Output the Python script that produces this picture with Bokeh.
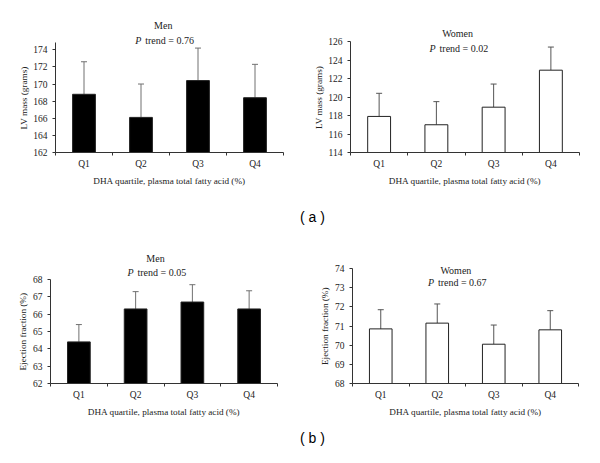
from bokeh.plotting import figure
from bokeh.layouts import column, row
from bokeh.models import (ColumnDataSource, Whisker, TeeHead, FixedTicker, Label,
                          Range1d, Title)
from bokeh.embed import file_html
from bokeh.resources import INLINE

quartiles = ["Q1", "Q2", "Q3", "Q4"]
xlabel = "DHA quartile, plasma total fatty acid (%)"

lv_men = [168.8, 166.1, 170.4, 168.4]
lv_men_se = [3.8, 3.9, 3.8, 3.9]
lv_women = [117.9, 117.0, 118.9, 122.9]
lv_women_se = [2.5, 2.5, 2.5, 2.5]
ef_men = [64.4, 66.3, 66.7, 66.3]
ef_men_se = [1.0, 1.0, 1.0, 1.05]
ef_women = [70.85, 71.15, 70.05, 70.8]
ef_women_se = [1.0, 1.0, 1.0, 1.0]

lv_men_ticks = [162, 164, 166, 168, 170, 172, 174]
lv_women_ticks = [114, 116, 118, 120, 122, 124, 126]
ef_men_ticks = [62, 63, 64, 65, 66, 67, 68]
ef_women_ticks = [68, 69, 70, 71, 72, 73, 74]

p_men_lv = "0.76"
p_women_lv = "0.02"
p_men_ef = "0.05"
p_women_ef = "0.67"

SERIF = "Liberation Serif"
TXT = "#222222"


def panel(values, se, ticks, axis_top, ylabel, ylabel_len, sex, ptrend, fill,
          width, height, left, right, frame_top, axis_top_px, frame_bottom,
          title_x, title_y, ptrend_y, err_color):
    axis_px = frame_bottom - axis_top_px
    full_px = frame_bottom - frame_top
    yend = ticks[0] + (axis_top - ticks[0]) * full_px / axis_px
    p = figure(width=width, height=height, x_range=Range1d(0.5, 4.5),
               y_range=Range1d(ticks[0], yend), output_backend="svg",
               toolbar_location=None, min_border_left=left,
               min_border_right=right, min_border_top=frame_top,
               min_border_bottom=height - frame_bottom)
    p.outline_line_color = None
    p.grid.visible = False
    xs = [i + 1 for i in range(len(quartiles))]
    src = ColumnDataSource(dict(
        x=xs, top=values,
        upper=[v + e for v, e in zip(values, se)]))
    p.vbar(x="x", top="top", bottom=ticks[0], width=0.4, source=src,
           fill_color=fill, line_color="#222222", line_width=1)
    w = Whisker(base="x", lower="top", upper="upper", source=src,
                dimension="height", line_color=err_color, line_width=1,
                lower_head=None,
                upper_head=TeeHead(size=6, line_color=err_color, line_width=1))
    p.add_layout(w)

    xa = p.xaxis[0]
    xa.ticker = FixedTicker(ticks=xs, minor_ticks=[x - 0.5 for x in xs] + [xs[-1] + 0.5])
    xa.major_label_overrides = {x: q for x, q in zip(xs, quartiles)}
    xa.major_tick_out = 3
    xa.major_tick_in = 0
    xa.minor_tick_out = 3
    xa.minor_tick_in = 0
    xa.major_label_standoff = 3
    xa.axis_label = xlabel
    xa.axis_label_standoff = 4

    ya = p.yaxis[0]
    ya.ticker = FixedTicker(ticks=ticks, minor_ticks=[])
    ya.bounds = (ticks[0], axis_top)
    ya.major_tick_out = 3
    ya.major_tick_in = 0
    ya.major_label_standoff = 5

    for ax in (xa, ya):
        ax.axis_line_color = "#333333"
        ax.major_tick_line_color = "#333333" if ax is ya else None
        ax.minor_tick_line_color = "#333333" if ax is xa else None
        ax.major_label_text_font = SERIF
        ax.major_label_text_font_size = "9.5px"
        ax.major_label_text_color = TXT
        ax.axis_label_text_font = SERIF
        ax.axis_label_text_font_size = "9.2px"
        ax.axis_label_text_font_style = "normal"
        ax.axis_label_text_color = TXT

    # y-axis label, centred on the drawn (bounded) axis
    p.add_layout(Title(text=ylabel, align="left",
                       offset=(axis_px - ylabel_len) / 2, standoff=4,
                       vertical_align="bottom", text_font=SERIF,
                       text_font_size="9.2px", text_font_style="normal",
                       text_color=TXT), "left")

    p.add_layout(Label(x=title_x, y=title_y, x_units="data", y_units="screen",
                       text=sex, text_align="center", text_baseline="middle",
                       text_font=SERIF, text_font_size="10px", text_color=TXT))
    p.add_layout(Label(x=title_x, y=ptrend_y, x_units="data", y_units="screen",
                       x_offset=-28, text="P", text_align="left",
                       text_baseline="middle", text_font=SERIF,
                       text_font_style="italic", text_font_size="10px",
                       text_color=TXT))
    p.add_layout(Label(x=title_x, y=ptrend_y, x_units="data", y_units="screen",
                       x_offset=-18, text="trend = " + ptrend, text_align="left",
                       text_baseline="middle", text_font=SERIF,
                       text_font_size="10px", text_color=TXT))
    return p


def strip(text, height, cx, cy):
    s = figure(width=600, height=height, x_range=Range1d(0, 600),
               y_range=Range1d(0, height), output_backend="svg",
               toolbar_location=None, min_border=0, x_axis_type=None,
               y_axis_type=None)
    s.outline_line_color = None
    s.grid.visible = False
    s.add_layout(Label(x=cx, y=cy, x_units="screen", y_units="screen",
                       text=text, text_align="center", text_baseline="middle",
                       text_font="Liberation Sans", text_font_size="14px",
                       text_color="black"))
    return s


# top row: frames share top (15) and bottom (152)
p1 = panel(lv_men, lv_men_se, lv_men_ticks, 174.85, "LV mass (grams)", 64, "Men",
           p_men_lv, "black", 300, 205, 55, 17, 15, 42, 152,
           2.39, 127, 112.5, "#707070")
p2 = panel(lv_women, lv_women_se, lv_women_ticks, 126, "LV mass (grams)", 64, "Women",
           p_women_lv, "white", 300, 205, 50, 21, 15, 41, 152,
           2.37, 119, 104.5, "#555555")
# bottom row: frames share top (12) and bottom (155)
p3 = panel(ef_men, ef_men_se, ef_men_ticks, 68, "Ejection fraction (%)", 78, "Men",
           p_men_ef, "black", 300, 197, 50, 23, 12, 51, 155,
           2.35, 125, 111, "#707070")
p4 = panel(ef_women, ef_women_se, ef_women_ticks, 74, "Ejection fraction (%)", 78, "Women",
           p_women_ef, "white", 300, 197, 52, 22, 12, 40, 155,
           2.33, 113, 101, "#555555")

sa = strip("( a )", 23, 312, 11.5)
sb = strip("( b )", 25, 312, 12.5)

layout = column(row(p1, p2), sa, row(p3, p4), sb)
open("out.html", "w").write(file_html(layout, INLINE))
